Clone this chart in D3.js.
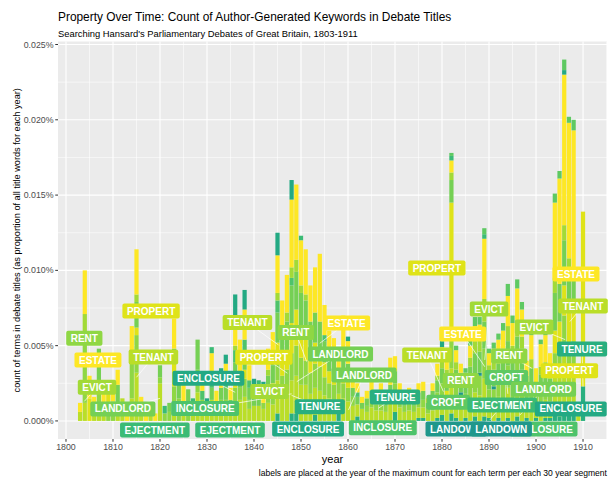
<!DOCTYPE html>
<html><head><meta charset="utf-8">
<script src="https://cdn.jsdelivr.net/npm/d3@7"></script>
<style>
body{margin:0;background:#fff}
text{font-family:"Liberation Sans",Arial,Helvetica,sans-serif}
</style>
</head><body>
<svg id="chart" width="612" height="479"></svg>
<script>
// ---------------- DATA (values in units of 0.001 %) ----------------
const firstYear = 1803, lastYear = 1911;
const years = d3.range(firstYear, lastYear + 1);

// stacking order follows ggplot: first term drawn on top
const terms = ["CROFT","EJECTMENT","ENCLOSURE","ESTATE","EVICT","INCLOSURE","LANDLORD","LANDOWN","PROPERT","RENT","TENANT","TENURE"];
const termColors = ["#5ec962","#3bbb75","#23a983","#fde725","#a2da37","#4ec36b","#75d054","#1f978b","#dfe318","#8fd744","#bade28","#29af7f"];

// dense series, one value per year 1803..1911
//                 1803-1809                     | 1810-1819                              | 1820-1829                          | 1830-1839                                | 1840-1849                               | 1850-1859                               | 1860-1869                              | 1870-1879                              | 1880-1889                              | 1890-1899                              | 1900-1909                               | 1910-11
const ESTATE   = [0.6,2.9,1.5,0.8,0,1.0,0,        1.3,1.0,0,0.8,1.8,3.0,0.8,0.6,0,0.5,     0,0,0,2.0,0,1.3,0,0.7,0,1.0,          0.5,1.5,0.8,1.0,1.0,0.8,2.0,2.4,2.0,1.0,   0.8,0.8,0.6,1.4,1.8,2.5,2.0,2.5,4.5,5.0,   3.0,3.0,2.4,3.0,4.5,2.0,1.5,1.4,1.0,2.5,   1.5,0.8,0.6,0.4,0.5,0.8,0.5,0.6,0.4,1.8,  1.0,0.6,0.4,0.5,0.4,0.6,0.6,0.3,0.5,0.8,  0.8,0.6,0.8,0.8,0.6,0.5,0.8,1.0,1.0,4.0,  0.8,0.8,1.0,1.2,2.0,1.5,2.2,1.8,1.0,1.6,  1.0,1.5,1.8,1.3,5.0,7.0,10.0,9.0,9.5,0.6,  0,0];
const TENANT   = [0.6,1.2,0,0.8,1.0,1.0,0,        0,1.2,1.5,0,1.5,3.2,0.8,0,0.5,0,         2.5,0,0,1.0,0,1.3,0,0.5,1.9,0.6,      0.5,1.4,0.6,0.8,0.8,0.8,1.2,1.4,1.6,0.8,   1.0,1.0,0.8,1.2,1.1,2.2,1.8,2.0,2.2,2.5,   2.4,2.4,1.8,1.8,2.0,1.7,1.5,1.4,1.2,1.5,   1.3,1.0,0.8,0.8,0.6,0.9,0.7,0.7,0.6,1.2,  1.2,0.9,0.6,0.7,0.6,0.7,0.7,0.5,0.7,1.0,  1.3,1.0,3.0,1.2,1.0,0.9,1.3,1.6,1.7,2.5,  1.1,1.2,1.4,1.5,2.0,1.5,2.0,1.8,0.9,1.3,  1.0,1.2,1.2,1.1,2.5,2.8,4.0,2.5,2.8,0.6,   0,0];
const RENT     = [0,4.2,0,0,1.3,0,0.9,            1.3,0,0,0,3.0,2.5,0,0,0.5,0,             0.4,0.5,0.6,1.3,1.5,0,1.1,0,1.5,0.8,  0,0,0.6,0.6,0.6,0,1.0,0.8,1.2,0.6,         0,0,0.4,0.8,0.8,1.5,1.2,1.4,1.8,2.0,       1.8,1.6,1.4,1.6,1.6,1.2,1.0,1.0,0.8,1.0,   0.9,0.6,0,0,0.4,0.5,0.4,0.4,0.4,0.6,      0.7,0.5,0.4,0.5,0.4,0.5,0.5,0.3,0.5,0.7,  0.8,0.6,2.0,0.8,0.7,0.7,0.9,1.2,1.3,2.0,  0.8,0.9,1.0,1.2,1.5,1.2,1.6,1.4,0.7,1.0,  0.6,0.8,0.9,0.7,1.5,2.0,2.5,2.0,2.0,0,     0,0];
const LANDLORD = [0,0.5,0,0,2.5,0,0,              0,1.2,0,0,0,1.7,0,0,0,0,                 0.8,0,0.6,1.0,1.4,0,1.0,0,2.0,0,      0,0.8,0,0.8,0.8,0.6,1.2,0.8,1.2,0.8,       0.6,0.6,0,1.0,1.2,2.0,1.6,2.0,2.5,2.5,     2.5,2.4,2.0,2.0,1.8,1.4,1.2,1.0,0.9,1.2,   1.0,0.6,0.5,0.4,0.5,0.6,0.4,0.5,0.4,0.6,  0.8,0.5,0.4,0.5,0.4,0.5,0.6,0.4,0.6,0.8,  1.0,0.9,1.5,1.2,0.9,0.9,1.2,1.4,1.4,1.8,  1.0,1.1,1.2,1.3,1.6,1.3,1.7,1.4,0.8,1.0,  0.7,0.9,1.0,0.8,2.5,2.5,3.0,2.5,2.0,0,     0,0];

// sparse series as [year, value]
const EVICT     = [[1804,1.2],[1815,0.5],[1836,0.3],[1843,0.4],[1845,0.5],[1846,0.4],[1847,0.6],[1848,0.7],[1849,0.8],[1850,0.5],[1851,0.4],[1879,0.3],[1880,0.6],[1881,0.5],[1882,0.5],[1883,0.5],[1884,0.4],[1886,0.6],[1887,0.8],[1888,0.8],[1889,1.5],[1890,0.6],[1891,0.6],[1892,0.6],[1893,0.6],[1894,1.0],[1895,0.8],[1896,1.0],[1897,0.8],[1898,0.4],[1899,0.6],[1901,0.5],[1902,0.6],[1903,0.4],[1904,1.0],[1906,1.0],[1907,0.8]];
const PROPERT   = [[1805,1.5],[1809,1.0],[1815,0.5],[1823,1.5],[1836,0.5],[1838,0.6],[1844,0.6],[1845,1.0],[1846,1.0],[1847,1.2],[1848,2.0],[1849,2.4],[1850,1.8],[1851,1.6],[1852,1.4],[1853,1.4],[1854,1.2],[1855,1.0],[1856,0.8],[1857,0.7],[1859,0.8],[1860,0.6],[1881,0.4],[1882,9.0],[1904,1.5],[1905,1.5],[1906,2.0],[1907,2.5],[1908,2.5],[1910,11.6]];
const ENCLOSURE = [[1830,0.5],[1833,0.3],[1834,0.6],[1836,1.4],[1838,1.3],[1840,0.4],[1842,0.8],[1845,1.5],[1848,1.3],[1860,0.3],[1865,0.4],[1880,0.4],[1906,0.3]];
const INCLOSURE = [[1829,0.6],[1831,0.8],[1834,0.6],[1836,0.8],[1838,0.8],[1839,0.5],[1844,0.4],[1845,0.8],[1848,0.5],[1855,0.4],[1862,0.3],[1867,0.3]];
const EJECTMENT = [[1821,0.5],[1827,0.3],[1831,0.4],[1841,0.3],[1850,0.3],[1882,0.3],[1889,0.3]];
const CROFT     = [[1882,0.2],[1883,0.3],[1885,0.3],[1886,0.4],[1887,0.6],[1888,0.5],[1889,0.4],[1890,0.3],[1891,0.4],[1892,0.4],[1893,0.5],[1894,0.8],[1895,0.5],[1896,0.6],[1897,0.5],[1899,0.3],[1901,0.3],[1902,0.3],[1904,0.6],[1905,0.5],[1906,0.7],[1907,0.4],[1908,0.7]];
const LANDOWN   = [[1878,0.2],[1884,0.2],[1886,0.2],[1888,0.2],[1891,0.2],[1893,0.2],[1895,0.2],[1897,0.2],[1899,0.2],[1901,0.2]];
const TENURE    = [[1845,0.5],[1848,0.5],[1849,0.5],[1853,0.4],[1858,0.6],[1862,0.3],[1870,0.6],[1875,0.2],[1876,0.2],[1879,0.2],[1880,0.4],[1882,0.5],[1883,0.2],[1885,0.2],[1887,0.3],[1889,0.3],[1890,0.2],[1892,0.2],[1894,0.2],[1896,0.3],[1898,0.2],[1900,0.2],[1902,0.2],[1903,0.2],[1904,0.5],[1905,0.3],[1906,0.5],[1907,0.5],[1908,0.5],[1910,2.3]];

// tick labels
const yTicks = [0,5,10,15,20,25];
const yTickLabels = ["0.000%","0.005%","0.010%","0.015%","0.020%","0.025%"];
const xTicks = d3.range(1800, 1911, 10);

// repelled labels: term, label centre (year, value), segment target (year, value) or null
const labelTerms = ["RENT","ESTATE","EVICT","LANDLORD","PROPERT","TENANT","ENCLOSURE","INCLOSURE","EJECTMENT","EJECTMENT",
  "TENANT","RENT","ESTATE","PROPERT","LANDLORD","LANDLORD","EVICT","TENURE","ENCLOSURE","INCLOSURE","TENURE",
  "PROPERT","EVICT","ESTATE","TENANT","RENT","CROFT","CROFT","RENT","LANDLORD","EJECTMENT",
  "ENCLOSURE","TENURE","PROPERT","EVICT","ESTATE","TENANT","LANDOWN","INCLOSURE","LANDOWN"];
const labelYear = [1803.9,1806.8,1806.6,1812.1,1818.1,1818.6,1830.3,1829.6,1818.9,1834.9,
  1838.6,1848.9,1859.7,1842.1,1858.4,1863.4,1843.3,1854.0,1851.5,1867.4,1870.0,
  1878.9,1890.0,1884.4,1876.8,1884.0,1881.3,1893.7,1894.3,1901.6,1892.8,
  1907.4,1909.8,1907.1,1899.6,1908.5,1910.0,1883.0,1901.6,1892.6];
const labelValue = [5.49,4.05,2.24,0.80,7.30,4.25,2.83,0.82,-0.60,-0.60,
  6.53,5.87,6.51,4.23,4.45,3.05,1.95,0.95,-0.53,-0.46,1.59,
  10.16,7.44,5.78,4.38,2.68,1.24,2.88,4.32,2.10,1.06,
  0.80,4.78,3.34,6.24,9.76,7.64,-0.53,-0.53,-0.53];
const segTargets = [null,null,[1803.9,1.3],[1820,1.5],null,[1815,2.9],[1836,1.9],[1848,1.8],null,null,
  [1845.2,5.05],[1851.2,3.94],[1854,5.16],[1847.1,3.17],[1849.1,2.61],[1860.1,0.73],null,[1848,1.7],null,null,[1866.5,0.85],
  null,[1889.1,4.05],[1889.1,3.6],[1880.3,1.95],null,null,[1894,1.8],[1899.1,3.5],[1896.6,0.4],[1890.2,0.07],
  null,[1910,2.28],null,[1906.2,5.4],null,[1907.2,6.6],null,null,null];

// ---------------- BUILD ----------------
function dense(pairs){const m=new Map(pairs);return years.map(y=>m.get(y)||0);}
const series = {ESTATE,TENANT,RENT,LANDLORD,
  EVICT:dense(EVICT),PROPERT:dense(PROPERT),ENCLOSURE:dense(ENCLOSURE),INCLOSURE:dense(INCLOSURE),
  EJECTMENT:dense(EJECTMENT),CROFT:dense(CROFT),LANDOWN:dense(LANDOWN),TENURE:dense(TENURE)};
const color = d3.scaleOrdinal().domain(terms).range(termColors);
const table = years.map((yr,i)=>{const o={year:yr};terms.forEach(t=>o[t]=series[t][i]);return o;});
const stacked = d3.stack().keys(terms.slice().reverse())(table);

const svg = d3.select("#chart");
const P = {l:58, r:607, t:41.5, b:439};
const x = d3.scaleLinear().domain([1798.3,1915.1]).range([P.l,P.r]);
const y = d3.scaleLinear().domain([-1.2,25.2]).range([P.b,P.t]);

svg.append("rect").attr("width",612).attr("height",479).attr("fill","#fff");
svg.append("rect").attr("x",P.l).attr("y",P.t).attr("width",P.r-P.l).attr("height",P.b-P.t).attr("fill","#ebebeb");

const grid = svg.append("g");
d3.range(1805,1916,10).filter(v=>v<=x.domain()[1]).forEach(v=>grid.append("line").attr("x1",x(v)).attr("x2",x(v)).attr("y1",P.t).attr("y2",P.b).attr("stroke","#fff").attr("stroke-width",0.55));
[2.5,7.5,12.5,17.5,22.5].forEach(v=>grid.append("line").attr("x1",P.l).attr("x2",P.r).attr("y1",y(v)).attr("y2",y(v)).attr("stroke","#fff").attr("stroke-width",0.55));
xTicks.forEach(v=>grid.append("line").attr("x1",x(v)).attr("x2",x(v)).attr("y1",P.t).attr("y2",P.b).attr("stroke","#fff").attr("stroke-width",1.1));
yTicks.forEach(v=>grid.append("line").attr("x1",P.l).attr("x2",P.r).attr("y1",y(v)).attr("y2",y(v)).attr("stroke","#fff").attr("stroke-width",1.1));

// bars
const bw = 0.9;
svg.append("g").selectAll("g").data(stacked).join("g").attr("fill",d=>color(d.key))
  .selectAll("rect").data(d=>d.filter(s=>s[1]-s[0]>0)).join("rect")
  .attr("x",d=>x(d.data.year-bw/2)).attr("width",x(bw)-x(0))
  .attr("y",d=>y(d[1])).attr("height",d=>y(d[0])-y(d[1]));

// label segments
const seg = svg.append("g");
labelTerms.forEach((t,i)=>{const tg=segTargets[i]; if(!tg) return;
  seg.append("line").attr("x1",x(labelYear[i])).attr("y1",y(labelValue[i])).attr("x2",x(tg[0])).attr("y2",y(tg[1]))
    .attr("stroke","#fff").attr("stroke-width",0.7);});

// labels
const lab = svg.append("g");
labelTerms.forEach((t,i)=>{
  const g = lab.append("g").attr("transform",`translate(${x(labelYear[i])},${y(labelValue[i])})`);
  const r = g.append("rect").attr("fill",color(t)).attr("rx",2);
  const tx = g.append("text").text(t).attr("text-anchor","middle").attr("dy","0.36em")
    .attr("fill","#fff").attr("font-weight","bold").attr("font-size",10);
  const w = tx.node().getComputedTextLength()+9, h = 15;
  r.attr("x",-w/2).attr("y",-h/2).attr("width",w).attr("height",h);
});

// axes
const ax = svg.append("g");
yTicks.forEach((v,i)=>{
  ax.append("line").attr("x1",P.l-2.75).attr("x2",P.l).attr("y1",y(v)).attr("y2",y(v)).attr("stroke","#333").attr("stroke-width",1);
  ax.append("text").text(yTickLabels[i]).attr("x",P.l-4.5).attr("y",y(v)).attr("dy","0.35em").attr("text-anchor","end").attr("font-size",8.8).attr("fill","#4d4d4d");
});
xTicks.forEach(v=>{
  ax.append("line").attr("x1",x(v)).attr("x2",x(v)).attr("y1",P.b).attr("y2",P.b+2.75).attr("stroke","#333").attr("stroke-width",1);
  ax.append("text").text(v).attr("x",x(v)).attr("y",P.b+11).attr("text-anchor","middle").attr("font-size",8.8).attr("fill","#4d4d4d");
});

// titles
svg.append("text").text("Property Over Time: Count of Author-Generated Keywords in Debate Titles").attr("x",P.l).attr("y",21).attr("font-size",11.9).attr("fill","#000");
svg.append("text").text("Searching Hansard's Parliamentary Debates of Great Britain, 1803-1911").attr("x",P.l).attr("y",36.5).attr("font-size",9.4).attr("fill","#000");
svg.append("text").text("year").attr("x",(P.l+P.r)/2).attr("y",463).attr("text-anchor","middle").attr("font-size",11).attr("fill","#000");
svg.append("text").text("count of terms in debate titles (as proportion of all title words for each year)")
  .attr("transform",`translate(20,${(P.t+P.b)/2}) rotate(-90)`).attr("text-anchor","middle").attr("font-size",9.2).attr("fill","#000");
svg.append("text").text("labels are placed at the year of the maximum count for each term per each 30 year segment").attr("x",P.r).attr("y",476).attr("text-anchor","end").attr("font-size",8.55).attr("fill","#000");
</script>
</body></html>
